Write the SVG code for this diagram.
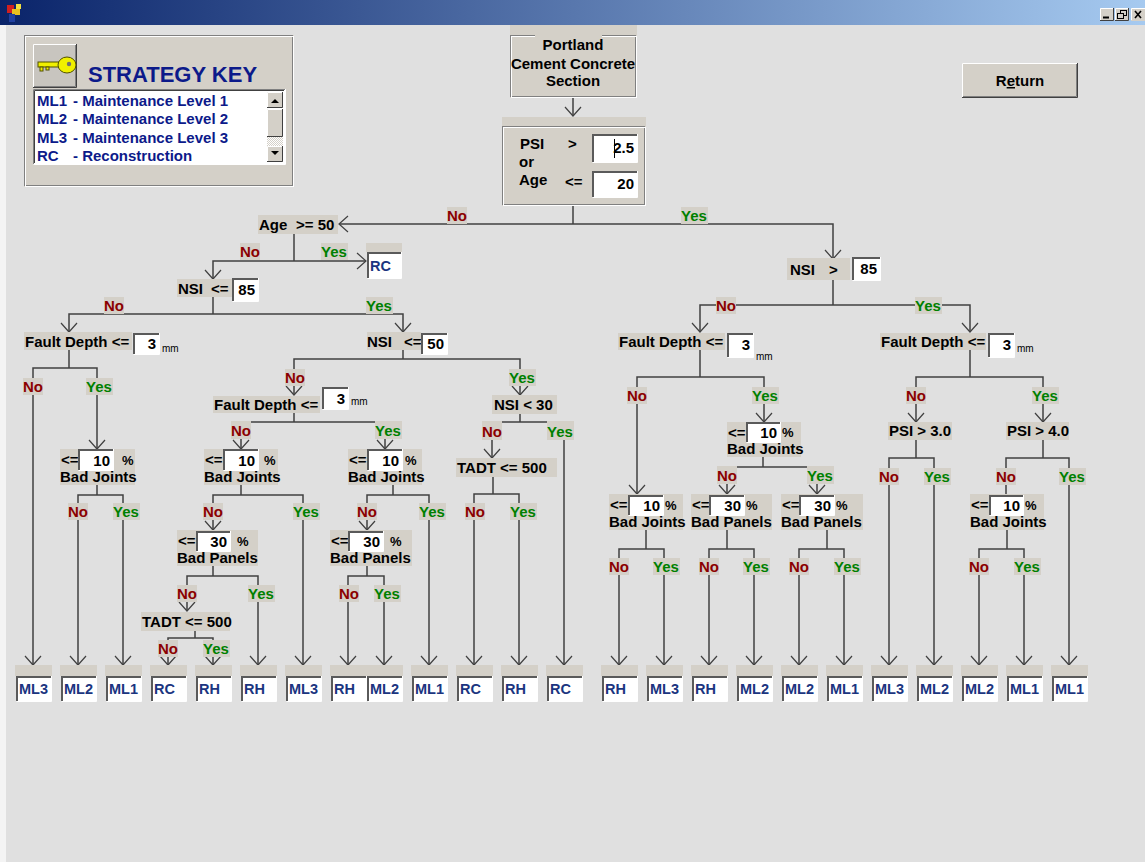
<svg xmlns="http://www.w3.org/2000/svg" width="1145" height="862" viewBox="0 0 1145 862">
<defs>
<linearGradient id="tb" x1="0" x2="1" y1="0" y2="0"><stop offset="0" stop-color="#0a246a"/><stop offset="1" stop-color="#a6caf0"/></linearGradient>
<marker id="ah" markerUnits="userSpaceOnUse" markerWidth="20" markerHeight="20" viewBox="-10 -10 20 20" refX="0" refY="0" orient="auto" overflow="visible"><path d="M-9,-8 L0,0 L-9,8" fill="none" stroke="#404040" stroke-width="1.2"/></marker>
<pattern id="chk" width="2" height="2" patternUnits="userSpaceOnUse"><rect width="2" height="2" fill="#fff"/><rect width="1" height="1" fill="#d4d0c8"/><rect x="1" y="1" width="1" height="1" fill="#d4d0c8"/></pattern>
</defs>
<style>
.t{font-family:"Liberation Sans",Arial,Helvetica,sans-serif;font-weight:700;font-size:15px;fill:#000}
.r{text-anchor:end}
.m{text-anchor:middle}
.no{fill:#8b0000}
.yes{fill:#008000}
.lf{fill:#1b3580;font-size:14.5px}
.mm{font-weight:400;font-size:10px}
.pc{font-size:13px}
.key{fill:#0c1a8a}
.bg{fill:#d4d0c8}
.wh{fill:#fff}
.sd{fill:none;stroke:#5a5a5a;stroke-width:2}
.sl{fill:none;stroke:#fff;stroke-width:1}
.hl{fill:none;stroke:#fff;stroke-width:1}
.dk{fill:none;stroke:#404040;stroke-width:1}
.gy{fill:none;stroke:#808080;stroke-width:1}
.c{fill:none;stroke:#404040;stroke-width:1.5}
.a{marker-end:url(#ah)}
</style>
<rect x="0" y="0" width="1145" height="862" fill="#e0e0e0"/>
<rect x="0" y="25" width="6" height="837" fill="#f4f4f4"/>
<g id="titlebar">
<rect x="0" y="0" width="1145" height="25" fill="url(#tb)"/>
<rect x="7" y="5" width="7" height="8" fill="#d02020"/>
<rect x="12" y="9" width="8" height="6" fill="#e8c020"/>
<rect x="9" y="14" width="6" height="8" fill="#2040a0"/>
<rect x="16" y="4" width="5" height="5" fill="#f0e040"/>
<g id="winbtns">
<rect class="bg" x="1100" y="8" width="14" height="13"/><path class="hl" d="M1100.5,20 V8.5 H1113"/><path class="dk" d="M1100,20.5 H1113.5 V8"/>
<path d="M1103,17.5 H1109" stroke="#000" stroke-width="2"/>
<rect class="bg" x="1115" y="8" width="14" height="13"/><path class="hl" d="M1115.5,20 V8.5 H1128"/><path class="dk" d="M1115,20.5 H1128.5 V8"/>
<rect x="1120.5" y="10.5" width="6" height="5" fill="none" stroke="#000"/><rect x="1117.5" y="13.5" width="6" height="5" fill="#d4d0c8" stroke="#000"/>
<rect class="bg" x="1131" y="8" width="14" height="13"/><path class="hl" d="M1131.5,20 V8.5 H1145"/>
<path d="M1135,11 L1141,18 M1141,11 L1135,18" stroke="#000" stroke-width="1.6"/>
</g>
</g>
<g id="strategy-key">
<rect class="bg" x="24" y="35" width="270" height="152"/>
<rect x="24.5" y="35.5" width="268" height="150" fill="none" stroke="#808080"/>
<rect x="25.5" y="36.5" width="268" height="150" fill="none" stroke="#fff"/>
<g id="key-button">
<rect x="33" y="44" width="44" height="44" fill="#c8c5bf"/>
<path class="hl" d="M33.5,87 V44.5 H76"/><path class="dk" d="M33,87.5 H76.5 V44"/><path class="gy" d="M34,86.5 H75.5 V45"/>
<rect x="38" y="62" width="24" height="5" fill="#f0f000" stroke="#505000" stroke-width="1"/>
<rect x="40" y="67" width="3" height="4" fill="#f0f000" stroke="#505000" stroke-width="1"/>
<rect x="46" y="67" width="3" height="3" fill="#f0f000" stroke="#505000" stroke-width="1"/>
<ellipse cx="67" cy="65" rx="9" ry="8" fill="#f0f000" stroke="#505000" stroke-width="1"/>
<circle cx="69" cy="64" r="2.2" fill="#707070"/>
</g>
<text class="t key" x="88" y="82" style="font-size:22px">STRATEGY KEY</text>
<g id="key-list">
<rect class="wh" x="33" y="89" width="252" height="75"/>
<path class="gy" d="M33.5,164 V89.5 H285"/><path class="dk" d="M34.5,163 V90.5 H284"/><path class="hl" d="M33.5,164.5 H285.5 V89"/>
<text class="t key" x="37" y="106">ML1<tspan x="73">- Maintenance Level 1</tspan></text>
<text class="t key" x="37" y="124">ML2<tspan x="73">- Maintenance Level 2</tspan></text>
<text class="t key" x="37" y="142.5">ML3<tspan x="73">- Maintenance Level 3</tspan></text>
<text class="t key" x="37" y="161">RC<tspan x="73">- Reconstruction</tspan></text>
<rect x="267" y="137" width="16" height="9" fill="url(#chk)"/>
<rect class="bg" x="267" y="92" width="16" height="16"/><path class="hl" d="M267.5,107 V92.5 H282"/><path class="dk" d="M267,107.5 H282.5 V92"/>
<polygon points="271,103 279,103 275,99" fill="#000"/>
<rect class="bg" x="267" y="109" width="16" height="28"/><path class="hl" d="M267.5,136 V109.5 H282"/><path class="dk" d="M267,136.5 H282.5 V109"/>
<rect class="bg" x="267" y="146" width="16" height="16"/><path class="hl" d="M267.5,161 V146.5 H282"/><path class="dk" d="M267,161.5 H282.5 V146"/>
<polygon points="271,151 279,151 275,155" fill="#000"/>
</g>
</g>
<g id="return-button">
<rect class="bg" x="962" y="63" width="116" height="35"/>
<path class="hl" d="M962.5,97 V63.5 H1077"/><path class="dk" d="M962,97.5 H1077.5 V63"/><path class="gy" d="M963,96.5 H1076.5 V64"/>
<text class="t m" x="1020" y="86">R<tspan text-decoration="underline">e</tspan>turn</text>
</g>
<g id="portland">
<rect class="bg" x="510" y="25" width="127" height="73"/>
<rect x="510.5" y="35.5" width="125" height="61" fill="none" stroke="#808080"/>
<rect x="511.5" y="36.5" width="125" height="61" fill="none" stroke="#fff"/>
<rect class="bg" x="535" y="33" width="67" height="6"/>
<text class="t m" x="573" y="50">Portland</text>
<text class="t m" x="573" y="69">Cement Concrete</text>
<text class="t m" x="573" y="86">Section</text>
</g>
<g id="psi-age">
<rect class="bg" x="502" y="117" width="144" height="89"/>
<rect x="502.5" y="126.5" width="142" height="78" fill="none" stroke="#808080"/>
<rect x="503.5" y="127.5" width="142" height="78" fill="none" stroke="#fff"/>
<text class="t" x="520" y="149">PSI</text>
<text class="t" x="568" y="149">&gt;</text>
<text class="t" x="519" y="167">or</text>
<text class="t" x="519" y="185">Age</text>
<text class="t" x="565" y="187">&lt;=</text>
<rect class="wh" x="592" y="134" width="45" height="28"/><path class="sd" d="M593,162 V135 H637"/><path class="sl" d="M592.5,162.5 H637.5 V134"/>
<text class="t r" x="634" y="153">2.5</text>
<path d="M614.5,139 V158" stroke="#000" stroke-width="1"/>
<rect class="wh" x="592" y="171" width="45" height="26"/><path class="sd" d="M593,197 V172 H637"/><path class="sl" d="M592.5,197.5 H637.5 V171"/>
<text class="t r" x="634" y="189">20</text>
</g>
<g id="connectors">
<path class="c a" d="M573,98 V116"/>
<path class="c" d="M573,206 V224"/>
<path class="c a" d="M573,224 H339"/>
<path class="c a" d="M573,224 H833 V259"/>
<path class="c" d="M294,234 V261"/>
<path class="c a" d="M294,261 H213 V279"/>
<path class="c a" d="M294,261 H366"/>
<path class="c" d="M213,297 V314"/>
<path class="c a" d="M213,314 H69 V332"/>
<path class="c a" d="M213,314 H403 V332"/>
<path class="c" d="M69,350 V368"/>
<path class="c a" d="M69,368 H33 V665"/>
<path class="c a" d="M69,368 H97 V449"/>
<path class="c" d="M97,485 V495"/>
<path class="c a" d="M97,495 H78 V665"/>
<path class="c a" d="M97,495 H123 V665"/>
<path class="c" d="M403,350 V359"/>
<path class="c a" d="M403,359 H294 V395"/>
<path class="c a" d="M403,359 H520 V395"/>
<path class="c" d="M294,412 V422"/>
<path class="c a" d="M294,422 H241 V449"/>
<path class="c a" d="M294,422 H385 V449"/>
<path class="c" d="M241,485 V495"/>
<path class="c a" d="M241,495 H213 V530"/>
<path class="c a" d="M241,495 H303 V665"/>
<path class="c" d="M213,566 V576"/>
<path class="c a" d="M213,576 H187 V611"/>
<path class="c a" d="M213,576 H258 V665"/>
<path class="c" d="M195,631 V638"/>
<path class="c a" d="M195,638 H168 V665"/>
<path class="c a" d="M195,638 H213 V665"/>
<path class="c" d="M393,485 V495"/>
<path class="c a" d="M393,495 H367 V530"/>
<path class="c a" d="M393,495 H429 V665"/>
<path class="c" d="M367,566 V576"/>
<path class="c a" d="M367,576 H348 V665"/>
<path class="c a" d="M367,576 H384 V665"/>
<path class="c" d="M520,414 V422"/>
<path class="c a" d="M520,422 H492 V458"/>
<path class="c a" d="M520,422 H564 V665"/>
<path class="c" d="M493,477 V494"/>
<path class="c a" d="M493,494 H474 V665"/>
<path class="c a" d="M493,494 H519 V665"/>
<path class="c" d="M833,280 V305"/>
<path class="c a" d="M833,305 H700 V332"/>
<path class="c a" d="M833,305 H970 V332"/>
<path class="c" d="M700,350 V377"/>
<path class="c a" d="M700,377 H637 V494"/>
<path class="c a" d="M700,377 H764 V422"/>
<path class="c" d="M763,457 V467"/>
<path class="c a" d="M763,467 H727 V494"/>
<path class="c a" d="M763,467 H817 V494"/>
<path class="c" d="M646,530 V549"/>
<path class="c a" d="M646,549 H619 V665"/>
<path class="c a" d="M646,549 H664 V665"/>
<path class="c" d="M727,530 V549"/>
<path class="c a" d="M727,549 H709 V665"/>
<path class="c a" d="M727,549 H754 V665"/>
<path class="c" d="M827,530 V549"/>
<path class="c a" d="M827,549 H799 V665"/>
<path class="c a" d="M827,549 H844 V665"/>
<path class="c" d="M970,350 V377"/>
<path class="c a" d="M970,377 H916 V422"/>
<path class="c a" d="M970,377 H1043 V422"/>
<path class="c" d="M916,440 V458"/>
<path class="c a" d="M916,458 H889 V665"/>
<path class="c a" d="M916,458 H934 V665"/>
<path class="c" d="M1043,440 V458"/>
<path class="c" d="M1043,458 H1006 V494"/>
<path class="c a" d="M1043,458 H1069 V665"/>
<path class="c" d="M1007,530 V549"/>
<path class="c a" d="M1007,549 H979 V665"/>
<path class="c a" d="M1007,549 H1024 V665"/>
</g>
<g id="branch-labels">
<rect class="bg" x="447" y="207" width="20" height="17"/><text class="t m no" x="457" y="221">No</text>
<rect class="bg" x="681" y="207" width="27" height="17"/><text class="t m yes" x="694" y="221">Yes</text>
<rect class="bg" x="240" y="243" width="20" height="17"/><text class="t m no" x="250" y="257">No</text>
<rect class="bg" x="321" y="243" width="27" height="17"/><text class="t m yes" x="334" y="257">Yes</text>
<rect class="bg" x="104" y="297" width="20" height="17"/><text class="t m no" x="114" y="311">No</text>
<rect class="bg" x="366" y="297" width="27" height="17"/><text class="t m yes" x="379" y="311">Yes</text>
<rect class="bg" x="23" y="378" width="20" height="17"/><text class="t m no" x="33" y="392">No</text>
<rect class="bg" x="86" y="378" width="27" height="17"/><text class="t m yes" x="99" y="392">Yes</text>
<rect class="bg" x="68" y="503" width="20" height="17"/><text class="t m no" x="78" y="517">No</text>
<rect class="bg" x="113" y="503" width="27" height="17"/><text class="t m yes" x="126" y="517">Yes</text>
<rect class="bg" x="285" y="369" width="20" height="17"/><text class="t m no" x="295" y="383">No</text>
<rect class="bg" x="509" y="369" width="27" height="17"/><text class="t m yes" x="522" y="383">Yes</text>
<rect class="bg" x="231" y="421" width="20" height="18"/><text class="t m no" x="241" y="436">No</text>
<rect class="bg" x="375" y="421" width="27" height="18"/><text class="t m yes" x="388" y="436">Yes</text>
<rect class="bg" x="203" y="503" width="20" height="17"/><text class="t m no" x="213" y="517">No</text>
<rect class="bg" x="293" y="503" width="27" height="17"/><text class="t m yes" x="306" y="517">Yes</text>
<rect class="bg" x="177" y="585" width="20" height="17"/><text class="t m no" x="187" y="599">No</text>
<rect class="bg" x="248" y="585" width="27" height="17"/><text class="t m yes" x="261" y="599">Yes</text>
<rect class="bg" x="158" y="640" width="20" height="17"/><text class="t m no" x="168" y="654">No</text>
<rect class="bg" x="203" y="640" width="27" height="17"/><text class="t m yes" x="216" y="654">Yes</text>
<rect class="bg" x="357" y="503" width="20" height="17"/><text class="t m no" x="367" y="517">No</text>
<rect class="bg" x="419" y="503" width="27" height="17"/><text class="t m yes" x="432" y="517">Yes</text>
<rect class="bg" x="339" y="585" width="20" height="17"/><text class="t m no" x="349" y="599">No</text>
<rect class="bg" x="374" y="585" width="27" height="17"/><text class="t m yes" x="387" y="599">Yes</text>
<rect class="bg" x="482" y="421" width="20" height="19"/><text class="t m no" x="492" y="437">No</text>
<rect class="bg" x="547" y="421" width="27" height="19"/><text class="t m yes" x="560" y="437">Yes</text>
<rect class="bg" x="465" y="503" width="20" height="17"/><text class="t m no" x="475" y="517">No</text>
<rect class="bg" x="510" y="503" width="27" height="17"/><text class="t m yes" x="523" y="517">Yes</text>
<rect class="bg" x="716" y="297" width="20" height="17"/><text class="t m no" x="726" y="311">No</text>
<rect class="bg" x="915" y="297" width="27" height="17"/><text class="t m yes" x="928" y="311">Yes</text>
<rect class="bg" x="627" y="387" width="20" height="17"/><text class="t m no" x="637" y="401">No</text>
<rect class="bg" x="752" y="387" width="27" height="17"/><text class="t m yes" x="765" y="401">Yes</text>
<rect class="bg" x="717" y="466" width="20" height="18"/><text class="t m no" x="727" y="481">No</text>
<rect class="bg" x="807" y="466" width="27" height="18"/><text class="t m yes" x="820" y="481">Yes</text>
<rect class="bg" x="609" y="558" width="20" height="17"/><text class="t m no" x="619" y="572">No</text>
<rect class="bg" x="653" y="558" width="27" height="17"/><text class="t m yes" x="666" y="572">Yes</text>
<rect class="bg" x="699" y="558" width="20" height="17"/><text class="t m no" x="709" y="572">No</text>
<rect class="bg" x="743" y="558" width="27" height="17"/><text class="t m yes" x="756" y="572">Yes</text>
<rect class="bg" x="789" y="558" width="20" height="17"/><text class="t m no" x="799" y="572">No</text>
<rect class="bg" x="834" y="558" width="27" height="17"/><text class="t m yes" x="847" y="572">Yes</text>
<rect class="bg" x="906" y="387" width="20" height="17"/><text class="t m no" x="916" y="401">No</text>
<rect class="bg" x="1032" y="387" width="27" height="17"/><text class="t m yes" x="1045" y="401">Yes</text>
<rect class="bg" x="879" y="468" width="20" height="17"/><text class="t m no" x="889" y="482">No</text>
<rect class="bg" x="924" y="468" width="27" height="17"/><text class="t m yes" x="937" y="482">Yes</text>
<rect class="bg" x="996" y="468" width="20" height="17"/><text class="t m no" x="1006" y="482">No</text>
<rect class="bg" x="1059" y="468" width="27" height="17"/><text class="t m yes" x="1072" y="482">Yes</text>
<rect class="bg" x="969" y="558" width="20" height="17"/><text class="t m no" x="979" y="572">No</text>
<rect class="bg" x="1014" y="558" width="27" height="17"/><text class="t m yes" x="1027" y="572">Yes</text>
</g>
<g id="age50">
<rect class="bg" x="258" y="215" width="80" height="19"/>
<text class="t" x="259" y="230">Age</text><text class="t" x="296" y="230">&gt;= 50</text>
</g>
<g id="rc-top">
<rect class="bg" x="366" y="243" width="36" height="9"/>
<rect class="wh" x="367" y="252" width="34" height="26"/><path class="sd" d="M368,278 V253 H401"/><path class="sl" d="M367.5,278.5 H401.5 V252"/>
<text class="t lf" x="370" y="271">RC</text>
</g>
<g id="nsi85-left">
<rect class="bg" x="177" y="279" width="55" height="18"/>
<text class="t" x="178" y="294">NSI</text><text class="t" x="211" y="294">&lt;=</text>
<rect class="wh" x="232" y="278" width="26" height="23"/><path class="sd" d="M233,301 V279 H258"/><path class="sl" d="M232.5,301.5 H258.5 V278"/>
<text class="t r" x="255" y="295">85</text>
</g>
<g id="fault1">
<rect class="bg" x="24" y="332" width="108" height="18"/>
<text class="t" x="25" y="347">Fault Depth &lt;=</text>
<rect class="wh" x="133" y="333" width="26" height="21"/><path class="sd" d="M134,354 V334 H159"/><path class="sl" d="M133.5,354.5 H159.5 V333"/>
<text class="t r" x="156" y="349">3</text>
<text class="t mm" x="162" y="352">mm</text>
</g>
<g id="nsi50">
<rect class="bg" x="367" y="332" width="54" height="18"/>
<text class="t" x="367" y="347">NSI</text><text class="t" x="404" y="347">&lt;=</text>
<rect class="wh" x="421" y="333" width="26" height="21"/><path class="sd" d="M422,354 V334 H447"/><path class="sl" d="M421.5,354.5 H447.5 V333"/>
<text class="t r" x="444" y="349">50</text>
</g>
<g id="joints1">
<rect class="bg" x="60" y="449" width="75" height="36"/>
<text class="t" x="61" y="465">&lt;=</text>
<rect class="wh" x="78" y="449" width="35" height="21"/><path class="sd" d="M79,470 V450 H113"/><path class="sl" d="M78.5,470.5 H113.5 V449"/>
<text class="t r" x="110" y="466">10</text><text class="t pc" x="122" y="465">%</text>
<text class="t" x="60" y="482">Bad Joints</text>
</g>
<g id="fault2">
<rect class="bg" x="213" y="396" width="107" height="17"/>
<text class="t" x="214" y="410">Fault Depth &lt;=</text>
<rect class="wh" x="322" y="387" width="26" height="22"/><path class="sd" d="M323,409 V388 H348"/><path class="sl" d="M322.5,409.5 H348.5 V387"/>
<text class="t r" x="345" y="404">3</text>
<text class="t mm" x="351" y="405">mm</text>
</g>
<g id="joints2">
<rect class="bg" x="204" y="449" width="74" height="36"/>
<text class="t" x="205" y="465">&lt;=</text>
<rect class="wh" x="223" y="449" width="35" height="21"/><path class="sd" d="M224,470 V450 H258"/><path class="sl" d="M223.5,470.5 H258.5 V449"/>
<text class="t r" x="255" y="466">10</text><text class="t pc" x="264" y="465">%</text>
<text class="t" x="204" y="482">Bad Joints</text>
</g>
<g id="panels1">
<rect class="bg" x="177" y="530" width="81" height="36"/>
<text class="t" x="178" y="546">&lt;=</text>
<rect class="wh" x="196" y="531" width="34" height="20"/><path class="sd" d="M197,551 V532 H230"/><path class="sl" d="M196.5,551.5 H230.5 V531"/>
<text class="t r" x="227" y="547">30</text><text class="t pc" x="237" y="546">%</text>
<text class="t" x="177" y="563">Bad Panels</text>
</g>
<g id="tadt1">
<rect class="bg" x="141" y="612" width="89" height="19"/>
<text class="t" x="142" y="627">TADT &lt;= 500</text>
</g>
<g id="joints3">
<rect class="bg" x="348" y="449" width="74" height="36"/>
<text class="t" x="349" y="465">&lt;=</text>
<rect class="wh" x="367" y="449" width="35" height="21"/><path class="sd" d="M368,470 V450 H402"/><path class="sl" d="M367.5,470.5 H402.5 V449"/>
<text class="t r" x="399" y="466">10</text><text class="t pc" x="405" y="465">%</text>
<text class="t" x="348" y="482">Bad Joints</text>
</g>
<g id="panels2">
<rect class="bg" x="330" y="530" width="82" height="36"/>
<text class="t" x="331" y="546">&lt;=</text>
<rect class="wh" x="348" y="531" width="35" height="20"/><path class="sd" d="M349,551 V532 H383"/><path class="sl" d="M348.5,551.5 H383.5 V531"/>
<text class="t r" x="380" y="547">30</text><text class="t pc" x="390" y="546">%</text>
<text class="t" x="330" y="563">Bad Panels</text>
</g>
<g id="nsi30">
<rect class="bg" x="492" y="395" width="65" height="19"/>
<text class="t" x="494" y="410">NSI &lt; 30</text>
</g>
<g id="tadt2">
<rect class="bg" x="456" y="458" width="101" height="19"/>
<text class="t" x="457" y="473">TADT &lt;= 500</text>
</g>
<g id="nsi85-right">
<rect class="bg" x="787" y="258" width="63" height="22"/>
<text class="t" x="790" y="275">NSI</text><text class="t" x="829" y="275">&gt;</text>
<rect class="wh" x="852" y="257" width="28" height="23"/><path class="sd" d="M853,280 V258 H880"/><path class="sl" d="M852.5,280.5 H880.5 V257"/>
<text class="t r" x="877" y="274">85</text>
</g>
<g id="fault3">
<rect class="bg" x="618" y="333" width="107" height="17"/>
<text class="t" x="619" y="347">Fault Depth &lt;=</text>
<rect class="wh" x="727" y="333" width="26" height="24"/><path class="sd" d="M728,357 V334 H753"/><path class="sl" d="M727.5,357.5 H753.5 V333"/>
<text class="t r" x="750" y="350">3</text>
<text class="t mm" x="756" y="360">mm</text>
</g>
<g id="fault4">
<rect class="bg" x="880" y="333" width="106" height="17"/>
<text class="t" x="881" y="347">Fault Depth &lt;=</text>
<rect class="wh" x="988" y="333" width="26" height="24"/><path class="sd" d="M989,357 V334 H1014"/><path class="sl" d="M988.5,357.5 H1014.5 V333"/>
<text class="t r" x="1011" y="350">3</text>
<text class="t mm" x="1017" y="352">mm</text>
</g>
<g id="joints4">
<rect class="bg" x="609" y="494" width="74" height="36"/>
<text class="t" x="610" y="510">&lt;=</text>
<rect class="wh" x="628" y="495" width="35" height="20"/><path class="sd" d="M629,515 V496 H663"/><path class="sl" d="M628.5,515.5 H663.5 V495"/>
<text class="t r" x="660" y="511">10</text><text class="t pc" x="665" y="510">%</text>
<text class="t" x="609" y="527">Bad Joints</text>
</g>
<g id="joints5">
<rect class="bg" x="727" y="422" width="74" height="35"/>
<text class="t" x="728" y="438">&lt;=</text>
<rect class="wh" x="746" y="422" width="34" height="20"/><path class="sd" d="M747,442 V423 H780"/><path class="sl" d="M746.5,442.5 H780.5 V422"/>
<text class="t r" x="777" y="438">10</text><text class="t pc" x="782" y="437">%</text>
<text class="t" x="727" y="454">Bad Joints</text>
</g>
<g id="panels3">
<rect class="bg" x="691" y="494" width="81" height="36"/>
<text class="t" x="692" y="510">&lt;=</text>
<rect class="wh" x="709" y="495" width="35" height="20"/><path class="sd" d="M710,515 V496 H744"/><path class="sl" d="M709.5,515.5 H744.5 V495"/>
<text class="t r" x="741" y="511">30</text><text class="t pc" x="746" y="510">%</text>
<text class="t" x="691" y="527">Bad Panels</text>
</g>
<g id="panels4">
<rect class="bg" x="781" y="494" width="82" height="36"/>
<text class="t" x="782" y="510">&lt;=</text>
<rect class="wh" x="799" y="495" width="35" height="20"/><path class="sd" d="M800,515 V496 H834"/><path class="sl" d="M799.5,515.5 H834.5 V495"/>
<text class="t r" x="831" y="511">30</text><text class="t pc" x="836" y="510">%</text>
<text class="t" x="781" y="527">Bad Panels</text>
</g>
<g id="psi30">
<rect class="bg" x="888" y="422" width="64" height="18"/>
<text class="t" x="889" y="436">PSI &gt; 3.0</text>
</g>
<g id="psi40">
<rect class="bg" x="1006" y="422" width="63" height="18"/>
<text class="t" x="1007" y="436">PSI &gt; 4.0</text>
</g>
<g id="joints6">
<rect class="bg" x="970" y="494" width="74" height="36"/>
<text class="t" x="971" y="510">&lt;=</text>
<rect class="wh" x="989" y="495" width="34" height="20"/><path class="sd" d="M990,515 V496 H1023"/><path class="sl" d="M989.5,515.5 H1023.5 V495"/>
<text class="t r" x="1020" y="511">10</text><text class="t pc" x="1025" y="510">%</text>
<text class="t" x="970" y="527">Bad Joints</text>
</g>
<g id="leaves">
<g id="leaf1"><rect class="bg" x="15" y="665" width="37" height="11"/><rect class="wh" x="16" y="676" width="35" height="25"/><path class="sd" d="M17,701 V677 H51"/><path class="sl" d="M16.5,701.5 H51.5 V676"/><text class="t lf" x="19" y="694">ML3</text></g>
<g id="leaf2"><rect class="bg" x="60" y="665" width="37" height="11"/><rect class="wh" x="61" y="676" width="35" height="25"/><path class="sd" d="M62,701 V677 H96"/><path class="sl" d="M61.5,701.5 H96.5 V676"/><text class="t lf" x="64" y="694">ML2</text></g>
<g id="leaf3"><rect class="bg" x="105" y="665" width="37" height="11"/><rect class="wh" x="106" y="676" width="35" height="25"/><path class="sd" d="M107,701 V677 H141"/><path class="sl" d="M106.5,701.5 H141.5 V676"/><text class="t lf" x="109" y="694">ML1</text></g>
<g id="leaf4"><rect class="bg" x="150" y="665" width="37" height="11"/><rect class="wh" x="151" y="676" width="35" height="25"/><path class="sd" d="M152,701 V677 H186"/><path class="sl" d="M151.5,701.5 H186.5 V676"/><text class="t lf" x="154" y="694">RC</text></g>
<g id="leaf5"><rect class="bg" x="195" y="665" width="37" height="11"/><rect class="wh" x="196" y="676" width="35" height="25"/><path class="sd" d="M197,701 V677 H231"/><path class="sl" d="M196.5,701.5 H231.5 V676"/><text class="t lf" x="199" y="694">RH</text></g>
<g id="leaf6"><rect class="bg" x="240" y="665" width="37" height="11"/><rect class="wh" x="241" y="676" width="35" height="25"/><path class="sd" d="M242,701 V677 H276"/><path class="sl" d="M241.5,701.5 H276.5 V676"/><text class="t lf" x="244" y="694">RH</text></g>
<g id="leaf7"><rect class="bg" x="285" y="665" width="37" height="11"/><rect class="wh" x="286" y="676" width="35" height="25"/><path class="sd" d="M287,701 V677 H321"/><path class="sl" d="M286.5,701.5 H321.5 V676"/><text class="t lf" x="289" y="694">ML3</text></g>
<g id="leaf8"><rect class="bg" x="330" y="665" width="37" height="11"/><rect class="wh" x="331" y="676" width="35" height="25"/><path class="sd" d="M332,701 V677 H366"/><path class="sl" d="M331.5,701.5 H366.5 V676"/><text class="t lf" x="334" y="694">RH</text></g>
<g id="leaf9"><rect class="bg" x="366" y="665" width="37" height="11"/><rect class="wh" x="367" y="676" width="35" height="25"/><path class="sd" d="M368,701 V677 H402"/><path class="sl" d="M367.5,701.5 H402.5 V676"/><text class="t lf" x="370" y="694">ML2</text></g>
<g id="leaf10"><rect class="bg" x="411" y="665" width="37" height="11"/><rect class="wh" x="412" y="676" width="35" height="25"/><path class="sd" d="M413,701 V677 H447"/><path class="sl" d="M412.5,701.5 H447.5 V676"/><text class="t lf" x="415" y="694">ML1</text></g>
<g id="leaf11"><rect class="bg" x="456" y="665" width="37" height="11"/><rect class="wh" x="457" y="676" width="35" height="25"/><path class="sd" d="M458,701 V677 H492"/><path class="sl" d="M457.5,701.5 H492.5 V676"/><text class="t lf" x="460" y="694">RC</text></g>
<g id="leaf12"><rect class="bg" x="501" y="665" width="37" height="11"/><rect class="wh" x="502" y="676" width="35" height="25"/><path class="sd" d="M503,701 V677 H537"/><path class="sl" d="M502.5,701.5 H537.5 V676"/><text class="t lf" x="505" y="694">RH</text></g>
<g id="leaf13"><rect class="bg" x="546" y="665" width="37" height="11"/><rect class="wh" x="547" y="676" width="35" height="25"/><path class="sd" d="M548,701 V677 H582"/><path class="sl" d="M547.5,701.5 H582.5 V676"/><text class="t lf" x="550" y="694">RC</text></g>
<g id="leaf14"><rect class="bg" x="601" y="665" width="37" height="11"/><rect class="wh" x="602" y="676" width="35" height="25"/><path class="sd" d="M603,701 V677 H637"/><path class="sl" d="M602.5,701.5 H637.5 V676"/><text class="t lf" x="605" y="694">RH</text></g>
<g id="leaf15"><rect class="bg" x="646" y="665" width="37" height="11"/><rect class="wh" x="647" y="676" width="35" height="25"/><path class="sd" d="M648,701 V677 H682"/><path class="sl" d="M647.5,701.5 H682.5 V676"/><text class="t lf" x="650" y="694">ML3</text></g>
<g id="leaf16"><rect class="bg" x="691" y="665" width="37" height="11"/><rect class="wh" x="692" y="676" width="35" height="25"/><path class="sd" d="M693,701 V677 H727"/><path class="sl" d="M692.5,701.5 H727.5 V676"/><text class="t lf" x="695" y="694">RH</text></g>
<g id="leaf17"><rect class="bg" x="736" y="665" width="37" height="11"/><rect class="wh" x="737" y="676" width="35" height="25"/><path class="sd" d="M738,701 V677 H772"/><path class="sl" d="M737.5,701.5 H772.5 V676"/><text class="t lf" x="740" y="694">ML2</text></g>
<g id="leaf18"><rect class="bg" x="781" y="665" width="37" height="11"/><rect class="wh" x="782" y="676" width="35" height="25"/><path class="sd" d="M783,701 V677 H817"/><path class="sl" d="M782.5,701.5 H817.5 V676"/><text class="t lf" x="785" y="694">ML2</text></g>
<g id="leaf19"><rect class="bg" x="826" y="665" width="37" height="11"/><rect class="wh" x="827" y="676" width="35" height="25"/><path class="sd" d="M828,701 V677 H862"/><path class="sl" d="M827.5,701.5 H862.5 V676"/><text class="t lf" x="830" y="694">ML1</text></g>
<g id="leaf20"><rect class="bg" x="871" y="665" width="37" height="11"/><rect class="wh" x="872" y="676" width="35" height="25"/><path class="sd" d="M873,701 V677 H907"/><path class="sl" d="M872.5,701.5 H907.5 V676"/><text class="t lf" x="875" y="694">ML3</text></g>
<g id="leaf21"><rect class="bg" x="916" y="665" width="37" height="11"/><rect class="wh" x="917" y="676" width="35" height="25"/><path class="sd" d="M918,701 V677 H952"/><path class="sl" d="M917.5,701.5 H952.5 V676"/><text class="t lf" x="920" y="694">ML2</text></g>
<g id="leaf22"><rect class="bg" x="961" y="665" width="37" height="11"/><rect class="wh" x="962" y="676" width="35" height="25"/><path class="sd" d="M963,701 V677 H997"/><path class="sl" d="M962.5,701.5 H997.5 V676"/><text class="t lf" x="965" y="694">ML2</text></g>
<g id="leaf23"><rect class="bg" x="1006" y="665" width="37" height="11"/><rect class="wh" x="1007" y="676" width="35" height="25"/><path class="sd" d="M1008,701 V677 H1042"/><path class="sl" d="M1007.5,701.5 H1042.5 V676"/><text class="t lf" x="1010" y="694">ML1</text></g>
<g id="leaf24"><rect class="bg" x="1051" y="665" width="37" height="11"/><rect class="wh" x="1052" y="676" width="35" height="25"/><path class="sd" d="M1053,701 V677 H1087"/><path class="sl" d="M1052.5,701.5 H1087.5 V676"/><text class="t lf" x="1055" y="694">ML1</text></g>
</g>
</svg>
